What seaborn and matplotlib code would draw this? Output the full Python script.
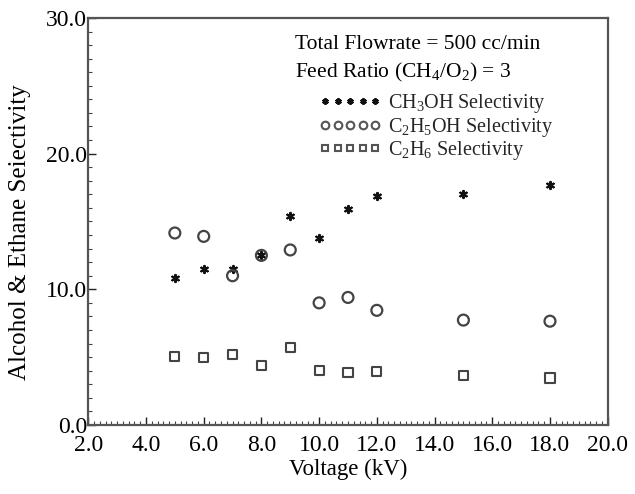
import matplotlib
matplotlib.use("Agg")
import matplotlib.pyplot as plt
from matplotlib.ticker import MultipleLocator, FormatStrFormatter
from matplotlib.lines import Line2D
import seaborn as sns
import pandas as pd

voltage = [5, 6, 7, 8, 9, 10, 11, 12, 15, 18]
ch3oh = [10.8, 11.5, 11.5, 12.5, 15.4, 13.8, 15.9, 16.85, 17.0, 17.7]
c2h5oh = [14.15, 13.9, 11.0, 12.5, 12.9, 9.0, 9.4, 8.45, 7.73, 7.65]
c2h6 = [5.07, 4.95, 5.2, 4.4, 5.7, 4.03, 3.85, 3.96, 3.64, 3.47]

series_names = [r"CH$_\mathregular{3}$OH Selectivity",
                r"C$_\mathregular{2}$H$_\mathregular{5}$OH Selectivity",
                r"C$_\mathregular{2}$H$_\mathregular{6}$ Selectivity"]

sns.set_theme(style="white")
plt.rcParams["font.family"] = ["Liberation Serif", "DejaVu Serif"]
plt.rcParams["mathtext.fontset"] = "custom"
plt.rcParams["mathtext.rm"] = "Liberation Serif"
plt.rcParams["mathtext.it"] = "Liberation Serif:italic"

fig = plt.figure(figsize=(6.35, 4.94), dpi=100)
ax = fig.add_axes([0.139, 0.1397, 0.818, 0.824])

styles = [
    dict(marker=(6, 2, 0), s=26, color="#111111", linewidth=1.6, facecolor="#111111", edgecolor="#111111"),
    dict(marker="o", s=62, facecolor="none", edgecolor="#444444", linewidth=1.6),
    dict(marker="s", s=44, facecolor="none", edgecolor="#444444", linewidth=1.5),
]

for vals, name, st in zip([ch3oh, c2h5oh, c2h6], series_names, styles):
    df = pd.DataFrame({"Voltage": voltage, "Selectivity": vals})
    sns.scatterplot(data=df, x="Voltage", y="Selectivity", ax=ax, legend=False, **st)

ax.set_xlim(2, 20)
ax.set_ylim(0, 30)
ax.xaxis.set_major_locator(MultipleLocator(2))
ax.xaxis.set_minor_locator(MultipleLocator(0.2))
ax.yaxis.set_major_locator(MultipleLocator(10))
ax.yaxis.set_minor_locator(MultipleLocator(1))
ax.xaxis.set_major_formatter(FormatStrFormatter("%.1f"))
ax.yaxis.set_major_formatter(FormatStrFormatter("%.1f"))
ax.tick_params(axis="both", which="major", direction="in", length=6, width=1,
               labelsize=17, colors="#222222", bottom=True, left=True)
ax.tick_params(axis="x", which="major", pad=7)
ax.tick_params(axis="y", which="major", pad=1)
ax.tick_params(axis="both", which="minor", direction="in", length=3, width=0.8,
               colors="#444444", bottom=True, left=True)
for lab in ax.get_xticklabels() + ax.get_yticklabels():
    lab.set_color("black")
for lab in ax.get_yticklabels():
    lab.set_verticalalignment("center_baseline")

for side in ["left", "bottom", "top", "right"]:
    ax.spines[side].set_visible(True)
    ax.spines[side].set_color("#555555")
    ax.spines[side].set_linewidth(1.6)

ax.set_xlabel("Voltage (kV)", fontsize=16.5, color="black", labelpad=2)
ax.set_ylabel("Alcohol & Ethane Seiectivity", fontsize=18, color="black")
ax.yaxis.set_label_coords(-0.11, 0.475)

ax.text(0.398, 0.935, "Total Flowrate = 500 cc/min", transform=ax.transAxes,
        fontsize=15.5, color="black", va="center", ha="left")
ax.text(0.398, 0.866, r"Feed Ratio (CH$_\mathregular{4}$/O$_\mathregular{2}$) = 3",
        transform=ax.transAxes, fontsize=15.5, color="black", va="center", ha="left")

handles = [
    Line2D([], [], linestyle="none", marker=(6, 2, 0), markersize=4.5, markeredgewidth=1.6,
           color="#111111"),
    Line2D([], [], linestyle="none", marker="o", markersize=5.5, markerfacecolor="none",
           markeredgecolor="#555555", markeredgewidth=1.5),
    Line2D([], [], linestyle="none", marker="s", markersize=5, markerfacecolor="none",
           markeredgecolor="#555555", markeredgewidth=1.5),
]
ax.legend(handles, series_names, loc="upper left", bbox_to_anchor=(0.425, 0.842),
          numpoints=5, frameon=False, fontsize=14.5, handlelength=3.1, handletextpad=0.3,
          labelspacing=0.02, borderpad=0)

fig.savefig("out.png", dpi=100, facecolor="white")
